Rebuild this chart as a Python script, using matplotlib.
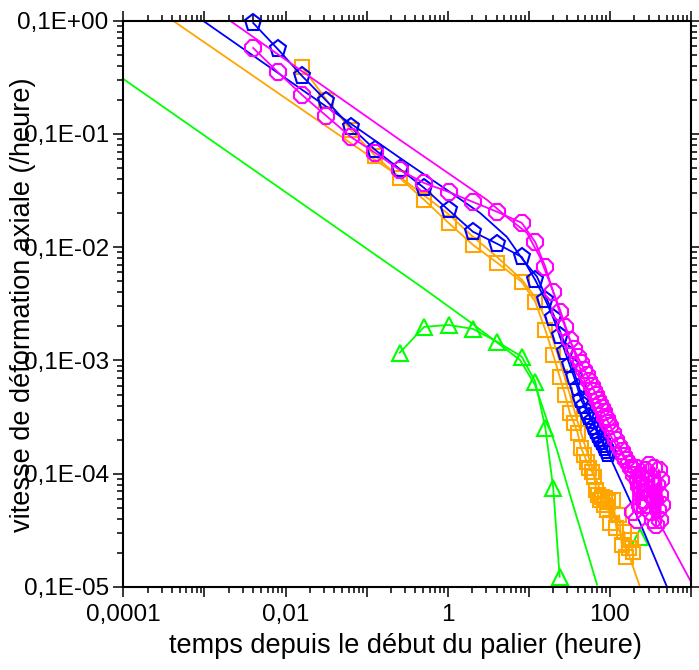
import numpy as np
import matplotlib.pyplot as plt
from matplotlib.ticker import LogLocator, FuncFormatter, NullFormatter

plt.rcParams['font.family'] = ['Liberation Sans', 'DejaVu Sans']

# temps des mesures (heure): doublement puis pas de 4 h
t_double = [0.004, 0.008, 0.016, 0.032, 0.064, 0.128, 0.256, 0.512, 1.024, 2.048, 4.096, 8.192]

# essai rose (octogones)
t_rose = t_double + [12, 16, 20, 24, 28, 32, 36, 40, 44, 48, 52, 56, 60, 64, 68, 72, 76, 80, 84, 88, 92, 96, 100,
                     110, 120, 130, 140, 150, 160, 170, 180,
                     190, 195, 200, 210, 215, 220, 230, 235, 240, 250, 260, 270, 280, 290, 300, 310, 320,
                     330, 340, 350, 360, 370, 380, 390, 400, 410, 420, 430, 440]
v_rose = [0.0574, 0.0353, 0.0221, 0.0144, 0.00941, 0.0068, 0.00481, 0.00369, 0.00308, 0.00251, 0.00205, 0.00164,
          1.11e-3, 6.7e-4, 4.03e-4, 2.68e-4, 1.98e-4, 1.52e-4, 1.27e-4, 1.08e-4, 9.5e-5, 8.3e-5, 7.5e-5, 6.6e-5,
          6.0e-5, 5.4e-5, 5.0e-5, 4.5e-5, 4.1e-5, 3.8e-5, 3.5e-5, 3.2e-5, 3.05e-5, 2.8e-5, 2.65e-5,
          2.3e-5, 2.0e-5, 1.76e-5, 1.59e-5, 1.44e-5, 1.33e-5, 1.22e-5, 1.13e-5,
          1.08e-5, 4.6e-6, 9.8e-6, 1.13e-5, 3.9e-6, 8.8e-6, 7.8e-6, 5.3e-6, 9.6e-6, 6.9e-6, 5.9e-6, 1.08e-5,
          7.5e-6, 5.3e-6, 1.2e-5, 6.5e-6, 4.6e-6, 9.2e-6, 3.9e-6, 1.13e-5, 5.9e-6, 3.5e-6, 8.0e-6, 4.8e-6,
          1.08e-5, 6.5e-6, 3.9e-6, 8.8e-6, 5.3e-6]

# essai bleu (pentagones)
t_bleu = t_double + [12, 16, 20, 24, 28, 32, 36, 40, 44, 48, 52, 56, 60, 64, 68, 72, 76, 80, 84, 88, 92, 96]
v_bleu = [0.0954, 0.0563, 0.0325, 0.0196, 0.0115, 0.00722, 0.00491, 0.00334, 0.00213, 0.00137, 0.00107, 0.00082,
          5.14e-4, 3.43e-4, 2.38e-4, 1.65e-4, 1.19e-4, 9.1e-5, 7.2e-5, 5.7e-5, 4.5e-5, 4.0e-5, 3.5e-5,
          3.2e-5, 2.9e-5, 2.6e-5, 2.4e-5, 2.2e-5, 2.03e-5, 1.91e-5, 1.8e-5, 1.69e-5, 1.59e-5, 1.5e-5]

# essai orange (carres)
t_orange = t_double[2:] + [12, 16, 20, 24, 28, 32, 36, 40, 44, 48, 52, 56, 60, 64, 68, 72, 76, 80, 84, 88, 92, 96,
                           100, 110, 120, 130, 140, 150, 160, 170, 180, 190]
v_orange = [0.039, 0.02, 0.01085, 0.00639, 0.00409, 0.00262, 0.00164, 0.00105, 0.000727, 0.000494,
            3.29e-4, 1.86e-4, 1.12e-4, 7.2e-5, 5.0e-5, 3.45e-5, 2.81e-5, 2.3e-5, 1.69e-5, 1.47e-5, 1.27e-5,
            1.13e-5, 1.04e-5, 9.4e-6, 7.2e-6, 6.5e-6, 5.9e-6, 6.25e-6, 5.3e-6, 6.1e-6, 4.8e-6, 5.65e-6, 3.7e-6,
            5.9e-6, 3.3e-6, 4.3e-6, 2.36e-6, 3.07e-6, 1.85e-6, 2.22e-6, 2.61e-6, 2.04e-6]

# essai vert (triangles)
t_vert = [0.256, 0.512, 1.024, 2.048, 4.096, 8.192, 12, 16, 20, 24]
v_vert = [1.17e-4, 1.98e-4, 2.06e-4, 1.9e-4, 1.46e-4, 1.08e-4, 6.5e-5, 2.54e-5, 7.5e-6, 1.23e-6]
t_vert_isole = [235]
v_vert_isole = [2.78e-6]

# courbes de calage
fit_rose_t = [2.07e-3, 0.258, 3.05, 5.38, 9.48, 13.7, 18.2, 24.3, 32.2, 46.6, 69.4, 109, 177, 452, 1000]
fit_rose_v = [0.1, 0.00885, 0.00262, 0.00184, 0.00134, 0.00082, 0.000484, 0.00028, 0.000152, 7.2e-5,
              3.45e-5, 2.0e-5, 1.13e-5, 3.2e-6, 1.11e-6]
fit_bleu_t = [9.6e-4, 0.258, 0.98, 2.5, 5.38, 8.47, 12.6, 16.7, 22.2, 29.6, 46.6, 100, 235, 506]
fit_bleu_v = [0.1, 0.00614, 0.0032, 0.00201, 0.00123, 0.000773, 0.00055, 0.00035, 0.000215, 0.000124,
              4.5e-5, 1.41e-5, 3.7e-6, 1.0e-6]
fit_orange_t = [4.1e-4, 0.258, 0.98, 1.99, 4.06, 8.26, 11.9, 15.9, 19.9, 24.3, 29.6, 39.3, 56.9, 75.6, 109, 163, 235]
fit_orange_v = [0.1, 0.00417, 0.00201, 0.00126, 0.00082, 0.000514, 0.000364, 0.000238, 0.000152, 9.7e-5,
                6.1e-5, 3.0e-5, 1.27e-5, 7.2e-6, 4.3e-6, 2.13e-6, 1.0e-6]
fit_vert_t = [1e-4, 0.455, 1.88, 3.83, 7.78, 11.9, 16.7, 22.2, 32.2, 46.6, 69.4]
fit_vert_v = [0.0306, 4.56e-4, 2.19e-4, 1.49e-4, 1.01e-4, 6.1e-5, 3.0e-5, 1.63e-5, 6.5e-6, 2.72e-6, 1.05e-6]

c_rose = '#FF00FF'
c_bleu = '#0000FF'
c_orange = '#FFA500'
c_vert = '#00FF00'

fig = plt.figure(figsize=(6.99, 6.70), dpi=100)
ax = fig.add_axes([123.3 / 699, 1 - 587 / 670, (691 - 123.3) / 699, (587 - 20.7) / 670])

lw = 1.3
ax.plot(fit_vert_t, fit_vert_v, color=c_vert, lw=lw)
ax.plot(t_vert, v_vert, color=c_vert, lw=lw, marker='^', ms=12, mfc='none', mew=1.5)
ax.plot(t_vert_isole, v_vert_isole, color=c_vert, lw=lw, marker='^', ms=12, mfc='none', mew=1.5)
ax.plot(fit_orange_t, fit_orange_v, color=c_orange, lw=lw)
ax.plot(t_orange, v_orange, color=c_orange, lw=lw, marker='s', ms=10, mfc='none', mew=1.5)
ax.plot(fit_bleu_t, fit_bleu_v, color=c_bleu, lw=lw)
ax.plot(t_bleu, v_bleu, color=c_bleu, lw=lw, marker='p', ms=12.5, mfc='none', mew=1.5, clip_on=False)
ax.plot(fit_rose_t, fit_rose_v, color=c_rose, lw=lw)
ax.plot(t_rose, v_rose, color=c_rose, lw=lw, marker='8', ms=12.5, mfc='none', mew=1.5)

ax.set_xscale('log')
ax.set_yscale('log')
ax.set_xlim(1e-4, 1000)
ax.set_ylim(1e-6, 0.1)

ax.xaxis.set_major_locator(LogLocator(base=10, numticks=20))
ax.xaxis.set_minor_locator(LogLocator(base=10, subs=np.arange(2, 10), numticks=100))
ax.yaxis.set_major_locator(LogLocator(base=10, numticks=20))
ax.yaxis.set_minor_locator(LogLocator(base=10, subs=np.arange(2, 10), numticks=100))

x_labels = {-4: '0,0001', -2: '0,01', 0: '1', 2: '100'}


def fmt_x(v, pos):
    e = int(round(np.log10(v)))
    return x_labels.get(e, '')


def fmt_y(v, pos):
    e = int(round(np.log10(v))) + 1
    return '0,1E%+03d' % e


ax.xaxis.set_major_formatter(FuncFormatter(fmt_x))
ax.yaxis.set_major_formatter(FuncFormatter(fmt_y))
ax.xaxis.set_minor_formatter(NullFormatter())
ax.yaxis.set_minor_formatter(NullFormatter())

ax.tick_params(which='both', direction='out', top=True, right=True, width=1.1, labelsize=17.5)
ax.tick_params(which='major', length=7.5)
ax.tick_params(which='minor', length=4)
ax.tick_params(axis='x', pad=5)
ax.tick_params(axis='y', pad=3)
for s in ax.spines.values():
    s.set_linewidth(1.5)

fig.text(405 / 699, 1 - 646 / 670, 'temps depuis le début du palier (heure)',
         ha='center', va='center', fontsize=19.5)
fig.text(23 / 699, 1 - 305 / 670, 'vitesse de déformation axiale (/heure)',
         ha='center', va='center', rotation=90, fontsize=19.5)

fig.savefig('out.png', dpi=100)
